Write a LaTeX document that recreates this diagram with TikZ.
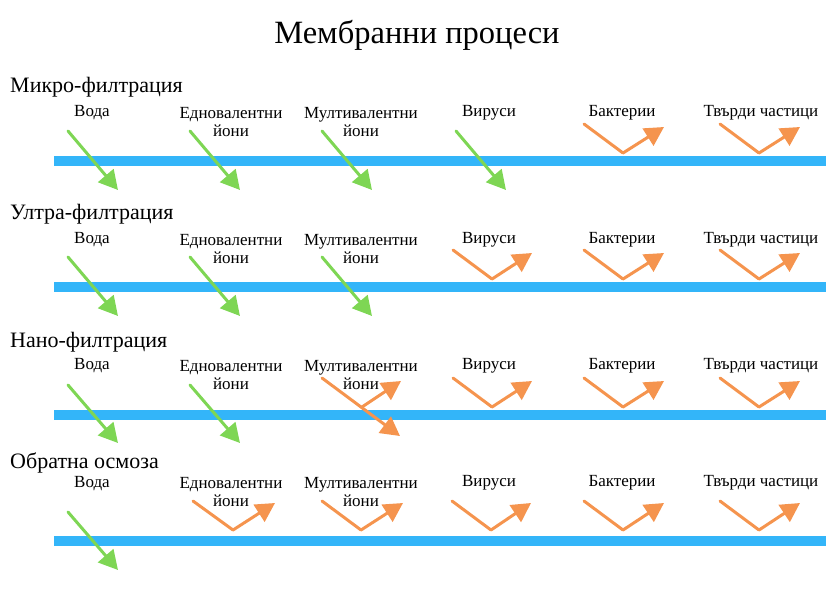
\documentclass[tikz,border=0pt]{standalone}
\usepackage{fontspec}
\setmainfont{Liberation Serif}
\usetikzlibrary{arrows.meta}
\definecolor{barblue}{RGB}{51,181,249}
\definecolor{passgreen}{RGB}{126,214,84}
\definecolor{rejorange}{RGB}{245,148,78}
\begin{document}
\begin{tikzpicture}
    [line cap=round,line join=round,x=1pt,y=-1pt,
     membrane/.style={fill=barblue},
     pass/.style={draw=passgreen,line width=3pt,-{Triangle[length=19pt,width=20pt]}},
     reject/.style={draw=rejorange,line width=3pt,-{Triangle[length=19pt,width=20pt]}},
     proc/.style={anchor=west,inner sep=0pt,font=\fontsize{22}{24}\selectfont},
     item/.style={align=center,inner sep=0pt,font=\fontsize{17}{18}\selectfont}]
\useasboundingbox (0,0) rectangle (834,590);
%title
\node[inner sep=0pt,font=\fontsize{32.5}{34}\selectfont] (title) at (417,35) {Мембранни процеси};
%membranes
\fill[membrane] (54,156) rectangle (826,166);
\fill[membrane] (54,282) rectangle (826,292);
\fill[membrane] (54,410) rectangle (826,420);
\fill[membrane] (54,536) rectangle (826,546);

%row 1 - micro
\node[proc] (micro) at (10,87) {Микро-филтрация};
\node[item] (mwater) at (92,113) {Вода};
\node[item] (mmono) at (231,122) {Едновалентни\\йони};
\node[item] (mmulti) at (361,122) {Мултивалентни\\йони};
\node[item] (mvirus) at (489,113) {Вируси};
\node[item] (mbact) at (622,113) {Бактерии};
\node[item] (msolid) at (761,113) {Твърди частици};
\draw[pass] (68,131) -- (118,190);
\draw[pass] (190,131) -- (240,190);
\draw[pass] (322,131) -- (372,190);
\draw[pass] (456,131) -- (506,190);
\draw[reject] (584,124) -- (623,153) -- (664,127);
\draw[reject] (720,124) -- (759,153) -- (800,127);

%row 2 - ultra
\node[proc] (ultra) at (10,214) {Ултра-филтрация};
\node[item] (uwater) at (92,240) {Вода};
\node[item] (umono) at (231,249) {Едновалентни\\йони};
\node[item] (umulti) at (361,249) {Мултивалентни\\йони};
\node[item] (uvirus) at (489,240) {Вируси};
\node[item] (ubact) at (622,240) {Бактерии};
\node[item] (usolid) at (761,240) {Твърди частици};
\draw[pass] (68,257) -- (118,316);
\draw[pass] (190,257) -- (240,316);
\draw[pass] (322,257) -- (372,316);
\draw[reject] (453,250) -- (492,279) -- (532,253);
\draw[reject] (584,250) -- (623,279) -- (664,253);
\draw[reject] (720,250) -- (759,279) -- (800,253);

%row 3 - nano
\node[proc] (nano) at (10,342) {Нано-филтрация};
\node[item] (nwater) at (92,366) {Вода};
\node[item] (nmono) at (231,375) {Едновалентни\\йони};
\node[item] (nmulti) at (361,375) {Мултивалентни\\йони};
\node[item] (nvirus) at (489,366) {Вируси};
\node[item] (nbact) at (622,366) {Бактерии};
\node[item] (nsolid) at (761,366) {Твърди частици};
\draw[pass] (68,385) -- (118,443);
\draw[pass] (190,385) -- (240,443);
\draw[reject] (322,378) -- (400,436);
\draw[reject] (362,407) -- (401,381);
\draw[reject] (453,378) -- (492,407) -- (532,381);
\draw[reject] (584,378) -- (623,407) -- (664,381);
\draw[reject] (720,378) -- (759,407) -- (800,381);

%row 4 - reverse osmosis
\node[proc] (ro) at (10,463) {Обратна осмоза};
\node[item] (rwater) at (92,484) {Вода};
\node[item] (rmono) at (231,492) {Едновалентни\\йони};
\node[item] (rmulti) at (361,492) {Мултивалентни\\йони};
\node[item] (rvirus) at (489,483) {Вируси};
\node[item] (rbact) at (622,483) {Бактерии};
\node[item] (rsolid) at (761,483) {Твърди частици};
\draw[pass] (68,512) -- (118,570);
\draw[reject] (193,501) -- (233,530) -- (275,503);
\draw[reject] (322,501) -- (361,530) -- (403,503);
\draw[reject] (452,501) -- (491,530) -- (531,503);
\draw[reject] (584,501) -- (623,530) -- (664,503);
\draw[reject] (720,501) -- (759,530) -- (800,503);
\end{tikzpicture}
\end{document}
